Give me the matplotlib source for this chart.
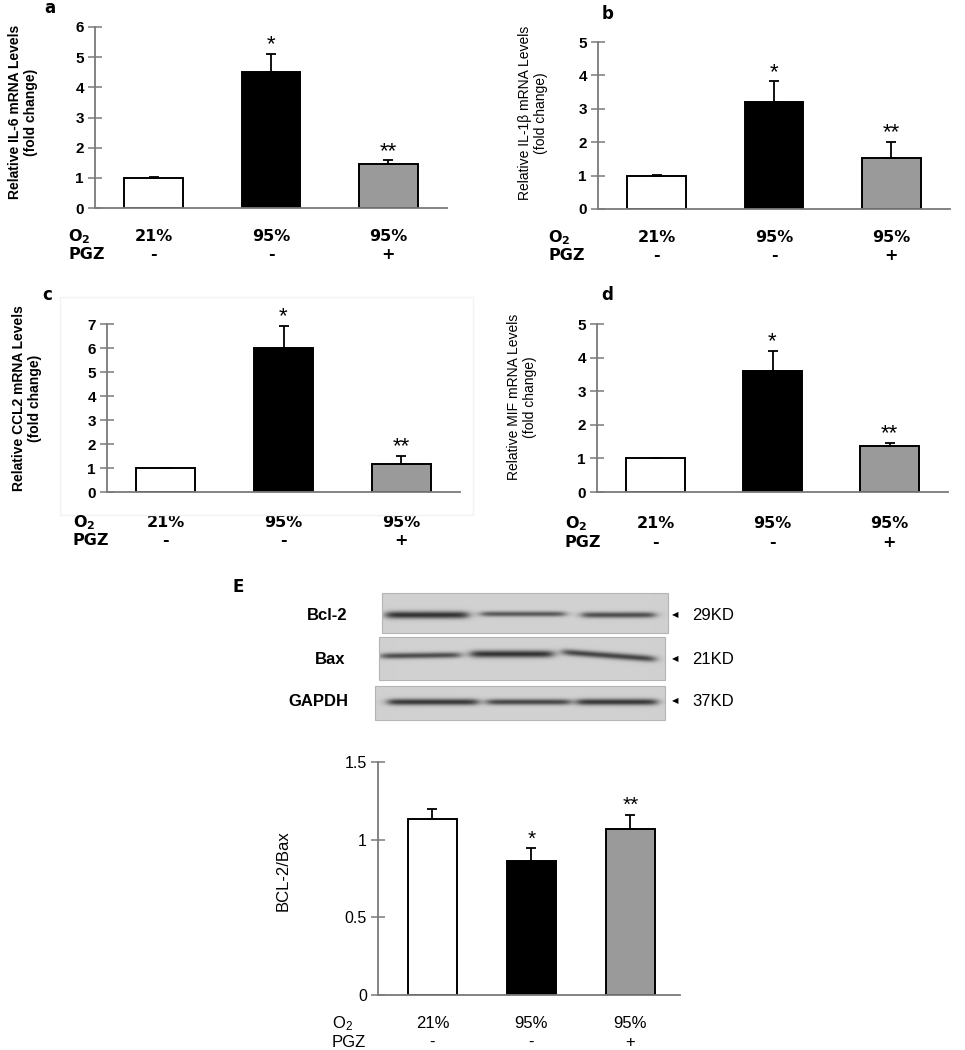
import numpy as np
import matplotlib
matplotlib.use('Agg')
import matplotlib.pyplot as plt
from matplotlib.patches import Rectangle
from matplotlib.font_manager import FontProperties

# ---------------- data ----------------
o2_labels = ['21%', '95%', '95%']
pgz_labels = ['-', '-', '+']
bar_colors = ['white', 'black', '#9a9a9a']
sig_marks = ['', '*', '**']

il6_mean = [1.0, 4.5, 1.45]
il6_err = [0.02, 0.6, 0.13]
il1b_mean = [1.0, 3.2, 1.52]
il1b_err = [0.02, 0.62, 0.48]
ccl2_mean = [1.0, 6.0, 1.15]
ccl2_err = [0.0, 0.93, 0.36]
mif_mean = [1.0, 3.6, 1.37]
mif_err = [0.0, 0.6, 0.1]
ratio_mean = [1.13, 0.86, 1.07]
ratio_err = [0.065, 0.085, 0.09]

il6_ticks = [0, 1, 2, 3, 4, 5, 6]
il1b_ticks = [0, 1, 2, 3, 4, 5]
ccl2_ticks = [0, 1, 2, 3, 4, 5, 6, 7]
mif_ticks = [0, 1, 2, 3, 4, 5]
ratio_ticks = [0, 0.5, 1, 1.5]
ratio_ticklabels = ['0', '0.5', '1', '1.5']

blot_names = ['Bcl-2', 'Bax', 'GAPDH']
blot_sizes = ['29KD', '21KD', '37KD']

# ---------------- figure ----------------
W, H = 965, 1050
DPI = 100
plt.rcParams['mathtext.default'] = 'regular'
plt.rcParams['font.family'] = ['Liberation Sans', 'DejaVu Sans']
fig = plt.figure(figsize=(W / DPI, H / DPI), dpi=DPI)
PT = DPI / 72.0

WIDE = ['DejaVu Sans', 'Liberation Sans']
NARROW = ['Liberation Sans Narrow', 'Liberation Sans', 'DejaVu Sans']


def px_axes(l, t, r, b):
    return fig.add_axes([l / W, 1 - b / H, (r - l) / W, (b - t) / H])


def ftext(x, y, s, **kw):
    return fig.text(x / W, 1 - y / H, s, **kw)


def bar_panel(ax, means, errs, ticks, ticklabels, top, xl, tick_font,
              row_font, row_size, row_weight, offs, star_size, star_weight):
    x = np.arange(len(means))
    ax.bar(x, means, width=0.5, color=bar_colors, edgecolor='black',
           linewidth=1.4, zorder=2)
    ax.errorbar(x, means, yerr=[np.zeros(len(errs)), errs], fmt='none',
                ecolor='black', elinewidth=1.3, capsize=3.6, capthick=1.3,
                zorder=3)
    ax.set_xlim(*xl)
    ax.set_ylim(0, top)
    for s in ['top', 'right']:
        ax.spines[s].set_visible(False)
    for s in ['left', 'bottom']:
        ax.spines[s].set_color('#7a7a7a')
        ax.spines[s].set_linewidth(1.3)
    ax.set_xticks([])
    ax.set_yticks(ticks)
    ax.set_yticklabels(ticklabels)
    ax.tick_params(axis='y', direction='inout', length=10, width=1.1,
                   color='#7a7a7a', pad=3)
    for lab in ax.get_yticklabels():
        lab.set_fontproperties(tick_font)
    for i in range(len(means)):
        if sig_marks[i]:
            ax.annotate(sig_marks[i], xy=(x[i], means[i] + errs[i]),
                        xytext=(0, 6.5), textcoords='offset points',
                        ha='center', va='center', fontsize=star_size,
                        fontweight=star_weight, family=['Liberation Sans'])
        ax.annotate(o2_labels[i], xy=(x[i], 0), xytext=(0, -offs[0] / PT),
                    textcoords='offset points', ha='center', va='baseline',
                    fontsize=row_size, fontweight=row_weight, family=row_font)
        ax.annotate(pgz_labels[i], xy=(x[i], 0), xytext=(0, -offs[1] / PT),
                    textcoords='offset points', ha='center', va='baseline',
                    fontsize=row_size, fontweight=row_weight, family=row_font)


tick_bold = FontProperties(family=['Liberation Sans'], weight='bold', size=11)
tick_reg = FontProperties(family=['Liberation Sans'], size=11.5)

# faint frame around panel c
fig.patches.append(Rectangle((60 / W, 1 - 515 / H), (473 - 60) / W, (515 - 297) / H,
                             transform=fig.transFigure, fill=False,
                             edgecolor='#f2f2f2', linewidth=1.0))

panels = [
    ((95, 27, 447, 208), il6_mean, il6_err, il6_ticks, 6,
     'Relative IL-6 mRNA Levels\n(fold change)', (23, 112), 'bold', 'a', (50, 8), 68, (33, 51)),
    ((598, 42, 950, 209), il1b_mean, il1b_err, il1b_ticks, 5,
     'Relative IL-1β mRNA Levels\n(fold change)', (533, 113), 'normal', 'b', (608, 14), 548, (33, 51)),
    ((107, 324, 460, 492), ccl2_mean, ccl2_err, ccl2_ticks, 7,
     'Relative CCL2 mRNA Levels\n(fold change)', (27, 398), 'bold', 'c', (47, 295), 73, (35, 53)),
    ((597, 324, 948, 492), mif_mean, mif_err, mif_ticks, 5,
     'Relative MIF mRNA Levels\n(fold change)', (522, 397), 'normal', 'd', (607, 295), 565, (36, 55)),
]

for box, means, errs, ticks, top, ylab, ylc, yw, letter, lpos, rowx, offs in panels:
    ax = px_axes(*box)
    bar_panel(ax, means, errs, ticks, [str(t) for t in ticks], top, (-0.5, 2.5),
              tick_bold, WIDE, 11.5, 'bold', offs, 16, 'normal')
    ftext(ylc[0], ylc[1], ylab, rotation=90, ha='center', va='center',
          multialignment='center', fontsize=10, fontweight=yw, family=NARROW,
          linespacing=1.1)
    ftext(lpos[0], lpos[1], letter, ha='center', va='center', fontsize=12,
          fontweight='bold', family=WIDE)
    box_bottom = box[3]
    ftext(rowx, box_bottom + offs[0], 'O$_2$', ha='left', va='baseline',
          fontsize=11.5, fontweight='bold', family=WIDE)
    ftext(rowx, box_bottom + offs[1], 'PGZ', ha='left', va='baseline',
          fontsize=11.5, fontweight='bold', family=WIDE)

# ---------------- panel E bar chart ----------------
axE = px_axes(378, 762, 680, 995)
bar_panel(axE, ratio_mean, ratio_err, ratio_ticks, ratio_ticklabels, 1.5,
          (-0.55, 2.5), tick_reg, ['Liberation Sans'], 12, 'normal', (33, 52),
          15, 'normal')
ftext(283, 871, 'BCL-2/Bax', rotation=90, ha='center', va='center',
      fontsize=12, family=['Liberation Sans'])
ftext(332, 1028, 'O$_2$', ha='left', va='baseline', fontsize=12,
      family=['Liberation Sans'])
ftext(332, 1047, 'PGZ', ha='left', va='baseline', fontsize=12,
      family=['Liberation Sans'])
ftext(238, 587, 'E', ha='center', va='center', fontsize=12, fontweight='bold',
      family=WIDE)

# ---------------- western blot ----------------
axB = px_axes(360, 585, 690, 728)
axB.axis('off')


def strip(ax, x0, y0, x1, y1, bands, bg=0.80):
    nx, ny = int((x1 - x0) * 3), int((y1 - y0) * 3)
    xs = np.linspace(x0, x1, nx)
    ys = np.linspace(y0, y1, ny)
    X, Y = np.meshgrid(xs, ys)
    img = np.full(X.shape, bg) + 0.02 * np.exp(-((X - (x0 + x1) / 2) / (x1 - x0)) ** 2)
    for bx0, bx1, ycl, ycr, th, dark in bands:
        frac = np.clip((X - bx0) / (bx1 - bx0), 0, 1)
        yc = ycl + (ycr - ycl) * frac
        horiz = 0.5 * (np.tanh((X - bx0) / 6) - np.tanh((X - bx1) / 6))
        vert = np.exp(-0.5 * ((Y - yc) / th) ** 2)
        img = img - dark * horiz * vert
    ax.imshow(np.clip(img, 0, 1), cmap='gray', vmin=0, vmax=1,
              extent=(x0, x1, y1, y0), interpolation='bilinear', aspect='auto')
    ax.add_patch(Rectangle((x0, y0), x1 - x0, y1 - y0, fill=False,
                           edgecolor='#b4b4b4', linewidth=0.8))


strip(axB, 382, 593, 668, 633, [
    (386, 468, 615, 615, 2.6, 0.62),
    (481, 565, 614, 614, 1.9, 0.48),
    (582, 655, 615, 615, 2.1, 0.52)])
strip(axB, 379, 637, 665, 680, [
    (381, 460, 656, 655, 2.1, 0.52),
    (471, 553, 654, 654, 2.6, 0.62),
    (563, 655, 652, 659, 2.3, 0.55)])
strip(axB, 375, 686, 665, 720, [
    (388, 478, 702, 702, 2.3, 0.6),
    (487, 570, 702, 702, 2.1, 0.55),
    (577, 657, 702, 702, 2.3, 0.6)])
axB.set_xlim(360, 690)
axB.set_ylim(728, 585)

blot_y = [615, 659, 701]
blot_lx = [347, 345, 348]
for name, size, yy, lx in zip(blot_names, blot_sizes, blot_y, blot_lx):
    ftext(lx, yy, name, ha='right', va='center', fontsize=12,
          fontweight='bold', family=['Liberation Sans'])
    ftext(675, yy, '◀', ha='center', va='center', fontsize=6,
          family=['DejaVu Sans'])
    ftext(692, yy, size, ha='left', va='center', fontsize=12,
          family=['Liberation Sans'])

fig.savefig('out.png', dpi=DPI, facecolor='white')
